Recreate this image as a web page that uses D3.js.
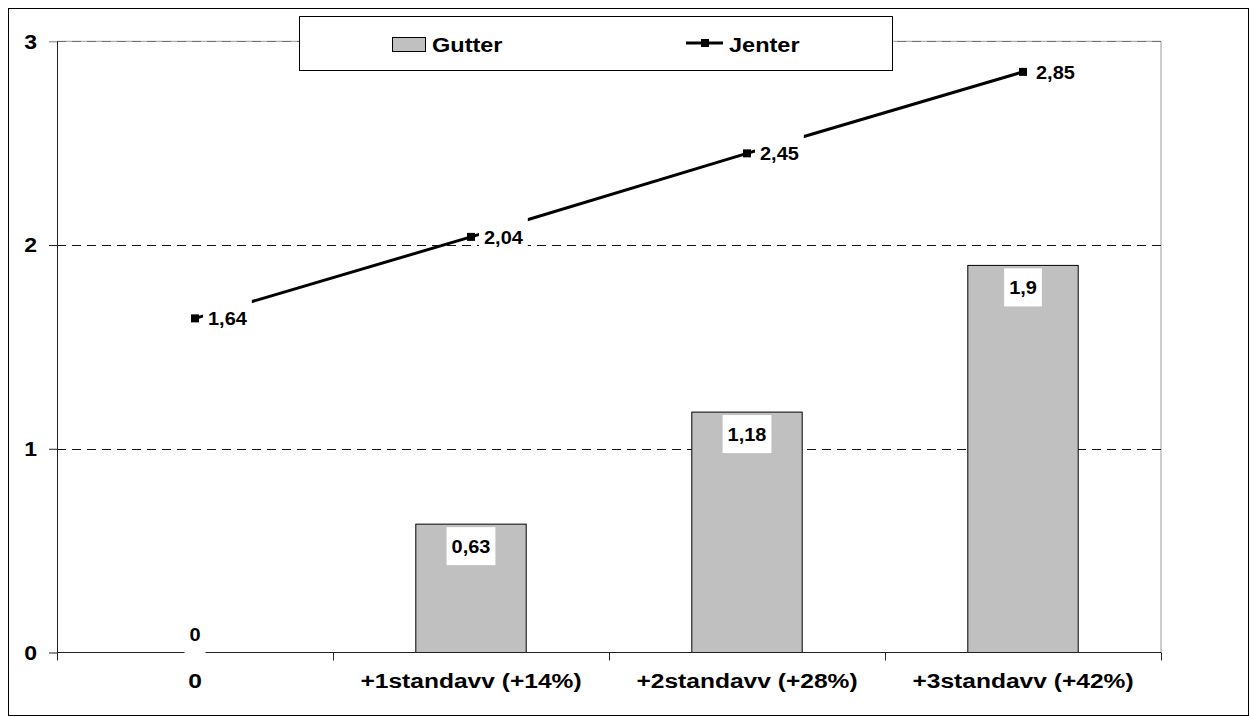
<!DOCTYPE html>
<html>
<head>
<meta charset="utf-8">
<script src="https://cdn.jsdelivr.net/npm/d3@7"></script>
<style>
  html, body { margin: 0; padding: 0; background: #fff; }
  svg { display: block; }
  text { font-family: "Liberation Sans", Arial, sans-serif; font-weight: bold; fill: #000; }
</style>
</head>
<body>
<svg id="chart" width="1250" height="717"></svg>
<script>
// Categories and series
const categories = ["0", "+1standavv (+14%)", "+2standavv (+28%)", "+3standavv (+42%)"];
const gutter = [0, 0.63, 1.18, 1.9];
const jenter = [1.64, 2.04, 2.45, 2.85];
const yTicks = [0, 1, 2, 3];
const seriesNames = ["Gutter", "Jenter"];

const fmt = v => String(v).replace(".", ",");

const svg = d3.select("#chart");
const plot = { left: 57, right: 1161, top: 41.3, bottom: 652.5 };

// Outer frame
svg.append("rect")
  .attr("x", 8.5).attr("y", 8.5).attr("width", 1240).attr("height", 707)
  .attr("fill", "#fff").attr("stroke", "#000").attr("stroke-width", 1);

const x = d3.scaleBand().domain(categories).range([plot.left, plot.right]).paddingInner(0).paddingOuter(0);
const y = d3.scaleLinear().domain([0, 3]).range([plot.bottom, plot.top]);

// Stretched bold text helper
function label(g, tx, ty, str, size, sx, anchor) {
  return g.append("text")
    .attr("transform", `translate(${tx},${ty}) scale(${sx},1)`)
    .attr("text-anchor", anchor || "start")
    .style("font-size", size + "px")
    .text(str);
}

// Plot border (top and right in gray)
svg.append("path")
  .attr("d", `M${plot.left},${plot.top}H${plot.right}V${plot.bottom}`)
  .attr("fill", "none").attr("stroke", "#9a9a9a").attr("stroke-width", 1);

// Dashed gridlines
svg.append("g").selectAll("line")
  .data(yTicks.filter(t => t > 0))
  .join("line")
  .attr("x1", plot.left).attr("x2", plot.right)
  .attr("y1", d => Math.round(y(d)) + 0.5).attr("y2", d => Math.round(y(d)) + 0.5)
  .attr("stroke", d => d === 3 ? "#707070" : "#111")
  .attr("stroke-width", 1)
  .attr("stroke-dasharray", "9,6");

// Bars
const bw = x.bandwidth() * 0.4;
svg.append("g").selectAll("rect")
  .data(gutter)
  .join("rect")
  .attr("x", (d, i) => x(categories[i]) + (x.bandwidth() - bw) / 2)
  .attr("y", d => y(d))
  .attr("width", bw)
  .attr("height", d => y(0) - y(d))
  .attr("fill", "#c0c0c0")
  .attr("stroke", "#000").attr("stroke-width", 1);

// Y axis
const yAxis = d3.axisLeft(y).tickValues(yTicks).tickSize(8).tickFormat("");
const gy = svg.append("g").attr("transform", `translate(${plot.left},0)`).call(yAxis);
gy.select(".domain").attr("stroke", "#222").attr("d", `M0.5,${plot.top}V${plot.bottom}`);
gy.selectAll(".tick line").attr("stroke", d => d === 3 ? "#808080" : "#222");
yTicks.forEach(t => label(svg, 37, y(t) + 7.2, String(t), 20, 1.15, "end"));

// X axis
const gx = svg.append("g").attr("transform", `translate(0,${plot.bottom})`);
gx.append("line").attr("x1", plot.left).attr("x2", plot.right).attr("y1", 0).attr("y2", 0).attr("stroke", "#222");
const bounds = categories.map(c => x(c)).concat([plot.right]);
gx.selectAll("line.tk").data(bounds).join("line").attr("class", "tk")
  .attr("x1", d => Math.round(d) + 0.5).attr("x2", d => Math.round(d) + 0.5)
  .attr("y1", 0).attr("y2", 8).attr("stroke", "#222");
categories.forEach(c => label(svg, x(c) + x.bandwidth() / 2, 687.5, c, 21, 1.17, "middle"));

// Jenter line
const cx = i => x(categories[i]) + x.bandwidth() / 2;
const line = d3.line().x((d, i) => cx(i)).y(d => y(d));
svg.append("path").datum(jenter).attr("d", line)
  .attr("fill", "none").attr("stroke", "#000").attr("stroke-width", 3);
svg.append("g").selectAll("rect").data(jenter).join("rect")
  .attr("x", (d, i) => cx(i) - 4).attr("y", d => y(d) - 4)
  .attr("width", 8).attr("height", 8).attr("fill", "#000");

// Data labels with white boxes
const dlSize = 19, dlSx = 1.05, boxH = 38, padX = 5;
const dl = svg.append("g");
function dataLabel(str, place) {
  const t = label(dl, 0, 0, str, dlSize, dlSx, "start");
  const tw = t.node().getComputedTextLength() * dlSx;
  const bwid = tw + padX * 2;
  const b = place(bwid);
  dl.insert("rect", "text")
    .attr("x", b.x).attr("y", b.y).attr("width", bwid).attr("height", boxH)
    .attr("fill", "#fff");
  t.attr("transform", `translate(${b.x + padX},${b.y + boxH / 2 + 6.8}) scale(${dlSx},1)`);
}
gutter.forEach((v, i) => dataLabel(fmt(v), w => {
  let top = y(v) + 3;
  if (top + boxH > y(0)) top = y(0) - boxH + 1;
  return { x: cx(i) - w / 2, y: top };
}));
jenter.forEach((v, i) => dataLabel(fmt(v), w => ({ x: cx(i) + 8, y: y(v) - boxH / 2 })));

// Legend
const lg = svg.append("g");
lg.append("rect").attr("x", 299.5).attr("y", 16.5).attr("width", 593).attr("height", 54)
  .attr("fill", "#fff").attr("stroke", "#000");
lg.append("rect").attr("x", 392.5).attr("y", 37.5).attr("width", 33).attr("height", 14)
  .attr("fill", "#c0c0c0").attr("stroke", "#000");
label(lg, 432, 52, seriesNames[0], 21, 1.12, "start");
lg.append("line").attr("x1", 686).attr("x2", 723).attr("y1", 43).attr("y2", 43)
  .attr("stroke", "#000").attr("stroke-width", 3);
lg.append("rect").attr("x", 701).attr("y", 39).attr("width", 8).attr("height", 8).attr("fill", "#000");
label(lg, 729, 52, seriesNames[1], 21, 1.12, "start");
</script>
</body>
</html>
